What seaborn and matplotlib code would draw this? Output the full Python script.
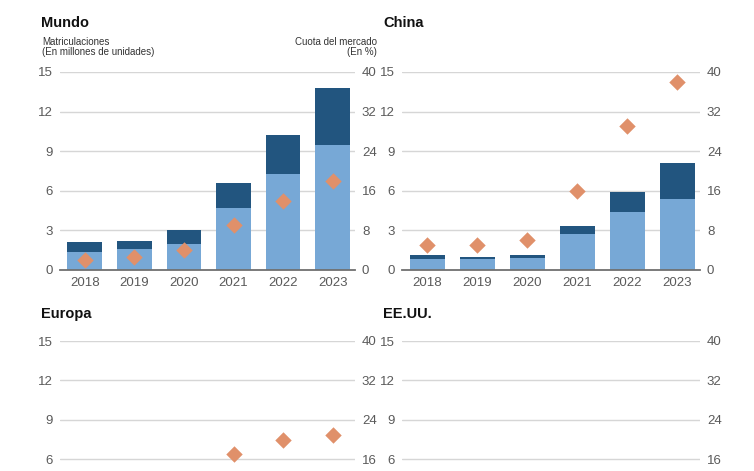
import matplotlib
matplotlib.use("Agg")
import matplotlib.pyplot as plt
import seaborn as sns
import pandas as pd

years = ['2018', '2019', '2020', '2021', '2022', '2023']

# matriculaciones, millones de unidades (total = barra oscura, electricos = barra clara)
mundo_total = [2.1, 2.2, 3.0, 6.6, 10.2, 13.8]
mundo_bev = [1.4, 1.6, 2.0, 4.7, 7.3, 9.5]
mundo_cuota = [2.0, 2.7, 4.0, 9.0, 14.0, 18.0]

china_total = [1.1, 1.0, 1.1, 3.3, 5.9, 8.1]
china_bev = [0.8, 0.8, 0.9, 2.7, 4.4, 5.4]
china_cuota = [5.0, 5.0, 6.0, 16.0, 29.0, 38.0]

europa_total = [0.4, 0.6, 1.4, 2.3, 2.7, 3.2]
europa_bev = [0.2, 0.36, 0.75, 1.2, 1.6, 2.0]
europa_cuota = [2.5, 3.6, 10.0, 17.0, 20.0, 21.0]

eeuu_total = [0.36, 0.33, 0.3, 0.63, 0.99, 1.4]
eeuu_bev = [0.24, 0.24, 0.23, 0.47, 0.8, 1.1]
eeuu_cuota = [2.0, 2.0, 2.0, 4.5, 7.7, 9.5]

left_ticks = [0, 3, 6, 9, 12, 15]
right_ticks = [0, 8, 16, 24, 32, 40]

sns.set_theme(style='white')
plt.rcParams['font.family'] = ['Liberation Sans', 'DejaVu Sans']

dark = '#22557f'
light = '#77a8d6'
orange = '#e0906a'
grey = '#5a5a5a'

fig = plt.figure(figsize=(7.54, 4.71), dpi=100)
W, H = 754, 471


def panel(x0, x1, ytop, ybot, title, title_y, total, bev, cuota, cut=False):
    ax = fig.add_axes([x0 / W, 1 - ybot / H, (x1 - x0) / W, (ybot - ytop) / H])
    df = pd.DataFrame({'year': years, 'total': total, 'bev': bev, 'cuota': cuota})
    sns.barplot(data=df, x='year', y='total', color=dark, width=0.7,
                saturation=1, linewidth=0, edgecolor='none', ax=ax)
    sns.barplot(data=df, x='year', y='bev', color=light, width=0.7,
                saturation=1, linewidth=0, edgecolor='none', ax=ax)
    ax.set_ylim(0, 15)
    # the lower panels run past the bottom edge of the picture
    ax.set_yticks(left_ticks[2:] if cut else left_ticks)
    ax.set_xlim(-0.5, 5.45)
    ax.set_axisbelow(True)
    ax.yaxis.grid(True, color='#d6d6d6', lw=1)
    for s in ['top', 'right', 'left']:
        ax.spines[s].set_visible(False)
    ax.spines['bottom'].set_color('#707070')
    ax.spines['bottom'].set_linewidth(1.3)
    ax.set_xlabel('')
    ax.set_ylabel('')
    ax.tick_params(axis='y', length=0, pad=5, labelsize=9.5, labelcolor=grey)
    ax.tick_params(axis='x', length=0, pad=5, labelsize=9.5, labelcolor=grey)
    if cut:
        ax.set_xticklabels([])

    ax2 = ax.twinx()
    sns.scatterplot(data=df, x='year', y='cuota', marker='D', s=70,
                    color=orange, linewidth=0, ax=ax2, zorder=5)
    ax2.set_ylim(0, 40)
    ax2.set_yticks(right_ticks[2:] if cut else right_ticks)
    ax2.set_xlim(-0.5, 5.45)
    ax2.set_ylabel('')
    for s in ax2.spines.values():
        s.set_visible(False)
    ax2.tick_params(axis='y', length=0, pad=5, labelsize=9.5, labelcolor=grey)

    fig.text((x0 - 19) / W, 1 - title_y / H, title, fontsize=10.5,
             fontweight='bold', color='#111111', va='top', ha='left')
    return ax


panel(60, 355, 72, 270, 'Mundo', 16, mundo_total, mundo_bev, mundo_cuota)
panel(402, 700, 72, 270, 'China', 16, china_total, china_bev, china_cuota)
panel(60, 355, 341, 538, 'Europa', 307, europa_total, europa_bev, europa_cuota,
      cut=True)
panel(402, 700, 341, 538, 'EE.UU.', 307, eeuu_total, eeuu_bev, eeuu_cuota,
      cut=True)

fig.text(42 / W, 1 - 37 / H, 'Matriculaciones\n(En millones de unidades)',
         fontsize=7, color='#333333', va='top', ha='left', linespacing=1.05)
fig.text(377 / W, 1 - 37 / H, 'Cuota del mercado\n(En %)',
         fontsize=7, color='#333333', va='top', ha='right', linespacing=1.05,
         multialignment='right')

fig.savefig('out.png', dpi=100)
